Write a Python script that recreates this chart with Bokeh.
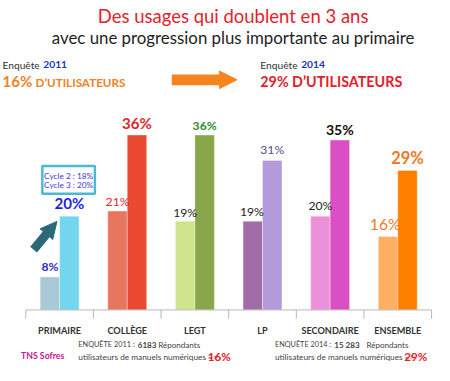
import numpy as np
from bokeh.plotting import figure
from bokeh.models import Range1d, Arrow, NormalHead, ColumnDataSource
from bokeh.core.properties import value
from bokeh.embed import file_html
from bokeh.resources import INLINE

# ---------------- data ----------------
categories = ["PRIMAIRE", "COLLÈGE", "LEGT", "LP", "SECONDAIRE", "ENSEMBLE"]
values_2011 = [8, 21, 19, 19, 20, 16]
values_2014 = [20, 36, 36, 31, 35, 29]
labels_2011 = ["8%", "21%", "19%", "19%", "20%", "16%"]
labels_2014 = ["20%", "36%", "36%", "31%", "35%", "29%"]
cycle_lines = ["Cycle 2 : 18%", "Cycle 3 : 20%"]
title = "Des usages qui doublent en 3 ans"
subtitle = "avec une progression plus importante au primaire"
AXIS_MIN = 1.5

# ---------------- styles ----------------
FONT = "Lato"
W, H = 434, 365
REF_W = 446.0                 # reference pixels shown across the figure
S = W / REF_W                 # screen pixels per reference pixel
REF_H = H / S


def fs(size):
    return f"{size * S:.2f}px"


colors_2011 = ["#A9C9D6", "#E8765F", "#CDE58B", "#A26CA9", "#EC90DA", "#FFAE62"]
colors_2014 = ["#72D6EE", "#EA4A31", "#8AA64B", "#B39BDB", "#DA4FC3", "#FF7F00"]
lab11_color = ["#2E2EC8", "#E3242B", "#222222", "#222222", "#222222", "#F07A26"]
lab14_color = ["#1F1FE0", "#E3242B", "#2E8B2E", "#5A4A8C", "#111111", "#F07A26"]
lab11_size = [fs(v) for v in [12.5, 12.5, 12.5, 12.5, 12.5, 16]]
lab14_size = [fs(v) for v in [15.5, 15.5, 12.5, 12.5, 14.5, 17]]
lab11_style = ["bold", "normal", "normal", "normal", "normal", "normal"]
lab14_style = ["bold", "bold", "bold", "normal", "bold", "bold"]
lab11_dy = [v * S for v in [-11, -10, -9, -10, -11, -13]]
lab14_dy = [v * S for v in [-14, -12, -10, -11, -11, -13]]
lab11_dx = [v * S for v in [0, 0, 0, -1, 0, -3]]

# calibration: reference pixels -> data
PX_X0, PX_CAT = 26.0, 69.5       # left end of axis, width of one category
PX_BASE, PX_UNIT = 318.0, 5.21   # baseline y, pixels per percent

x_start = (0 - PX_X0) / PX_CAT
x_end = (REF_W - PX_X0) / PX_CAT
y_end = AXIS_MIN + PX_BASE / PX_UNIT
y_start = AXIS_MIN - (REF_H - PX_BASE) / PX_UNIT
bw = 20.0 / PX_CAT

p = figure(width=W, height=H, output_backend="svg", toolbar_location=None,
           x_range=Range1d(x_start, x_end), y_range=Range1d(y_start, y_end),
           x_axis_type=None, y_axis_type=None, min_border=0,
           outline_line_color=None, background_fill_color="white",
           border_fill_color="white")
p.extra_x_ranges = {"px": Range1d(0, REF_W)}
p.extra_y_ranges = {"px": Range1d(REF_H, 0)}

idx = np.arange(len(categories))
centers = idx + 0.5

src11 = ColumnDataSource(dict(x=centers - bw / 2, top=values_2011, c=colors_2011,
                              lab=labels_2011, lc=lab11_color, ls=lab11_size,
                              st=lab11_style, dy=lab11_dy, dx=lab11_dx))
src14 = ColumnDataSource(dict(x=centers + bw / 2, top=values_2014, c=colors_2014,
                              lab=labels_2014, lc=lab14_color, ls=lab14_size,
                              st=lab14_style, dy=lab14_dy))

p.vbar(x="x", top="top", bottom=AXIS_MIN, width=bw, fill_color="c",
       line_color="white", line_alpha=0.35, line_width=1, source=src11)
p.vbar(x="x", top="top", bottom=AXIS_MIN, width=bw, fill_color="c",
       line_color="white", line_alpha=0.35, line_width=1, source=src14)

p.text(x="x", y="top", text="lab", text_color="lc", text_font_size="ls",
       text_font_style="st", y_offset="dy", x_offset="dx", text_align="center",
       text_baseline="middle", text_font=value(FONT), source=src11)
p.text(x="x", y="top", text="lab", text_color="lc", text_font_size="ls",
       text_font_style="st", y_offset="dy", text_align="center",
       text_baseline="middle", text_font=value(FONT), source=src14)

# axis line + boundary ticks
tick_len = 9 / PX_UNIT
p.segment(x0=[0], x1=[len(categories)], y0=[AXIS_MIN], y1=[AXIS_MIN],
          line_color="#B8B8B8", line_width=1)
bounds = np.arange(len(categories) + 1)
p.segment(x0=bounds, x1=bounds, y0=AXIS_MIN, y1=AXIS_MIN - tick_len,
          line_color="#B8B8B8", line_width=1)
p.text(x=centers, y=AXIS_MIN, text=categories, y_offset=21 * S, text_align="center",
       text_baseline="middle", text_font=value(FONT), text_font_size=fs(9.4),
       text_font_style="bold", text_color="#333333")


def txt(x, y, s, size, color, bold=False, align="left"):
    p.text(x=[x], y=[y], text=[s], text_font=value(FONT), text_font_size=fs(size),
           text_color=color, text_font_style="bold" if bold else "normal",
           text_align=align, text_baseline="middle",
           x_range_name="px", y_range_name="px")


# titles
txt(239, 16, title, 19, "#E3222B", align="center")
txt(239, 38, subtitle, 17.3, "#1E1E1E", align="center")

# header 2011
txt(2, 66, "Enquête", 10.5, "#333333")
txt(44, 66, "2011", 10.5, "#2233BB", bold=True)
txt(2, 83, "16%", 15.5, "#F08224", bold=True)
txt(36, 84, "D’UTILISATEURS", 12, "#F08224", bold=True)
# header 2014
txt(267, 66, "Enquête", 10.5, "#333333")
txt(309, 66, "2014", 10.5, "#2233BB", bold=True)
txt(267, 83, "29% D’UTILISATEURS", 14.7, "#E3202A", bold=True)

p.add_layout(Arrow(x_start=176, y_start=81.5, x_end=243, y_end=81.5,
                   line_width=11 * S, line_color="#F7841E",
                   end=NormalHead(size=18 * S, fill_color="#F7841E", line_color="#F7841E"),
                   x_range_name="px", y_range_name="px"))

# cycle box + teal arrow
p.quad(left=[43], right=[97], top=[170], bottom=[198.5], fill_color="white",
       line_color="#4DB7D6", line_width=2.5 * S, x_range_name="px", y_range_name="px")
txt(70, 180, cycle_lines[0], 8.5, "#3A3AD8", align="center")
txt(70, 190, cycle_lines[1], 8.5, "#3A3AD8", align="center")
p.add_layout(Arrow(x_start=34, y_start=256, x_end=58, y_end=227,
                   line_width=9 * S, line_color="#2B6878",
                   end=NormalHead(size=17 * S, fill_color="#2B6878", line_color="#2B6878"),
                   x_range_name="px", y_range_name="px"))

# footer
txt(21, 365, "TNS Sofres", 9, "#C0208C", bold=True)
txt(80, 354, "ENQUÊTE 2011 :", 7.5, "#444444")
txt(141, 354, "6183", 8.3, "#444444", bold=True)
txt(162, 354, "Répondants", 8.3, "#444444")
txt(80, 366, "utilisateurs de manuels numériques =>", 8.5, "#444444")
txt(213, 365, "16%", 12, "#E8202A", bold=True)
txt(282, 354, "ENQUÊTE 2014 :", 7.5, "#444444")
txt(343, 354, "15 283", 8.3, "#444444", bold=True)
txt(376, 354, "Répondants", 8.3, "#444444")
txt(282, 366, "utilisateurs de manuels numériques =>", 8.5, "#444444")
txt(415, 365, "29%", 12, "#E8202A", bold=True)

open("out.html", "w").write(file_html(p, INLINE))
